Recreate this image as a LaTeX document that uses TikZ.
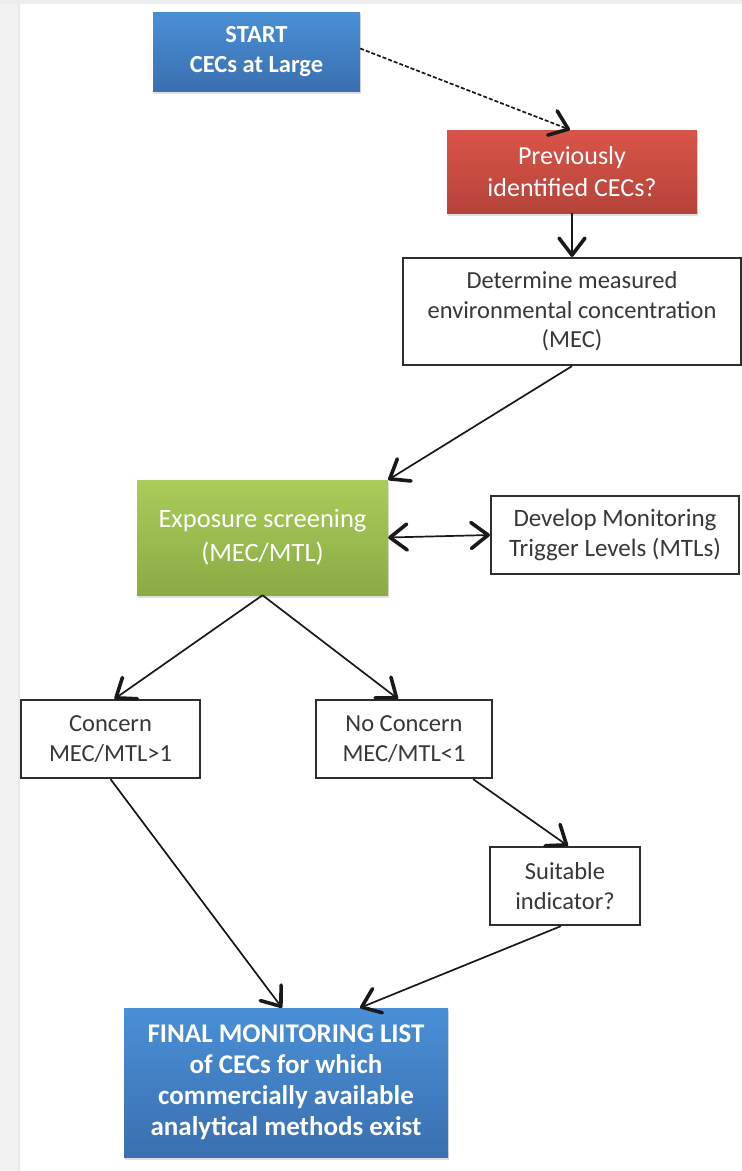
\documentclass[tikz,border=0pt]{standalone}
\usepackage{fontspec}
\setmainfont{Carlito}
\usetikzlibrary{arrows.meta,shadows,calc}

\definecolor{blueTop}{HTML}{4A8FD6}
\definecolor{blueBot}{HTML}{3A6FB0}
\definecolor{redTop}{HTML}{DA5448}
\definecolor{redBot}{HTML}{B5433A}
\definecolor{greenTop}{HTML}{AACC5A}
\definecolor{greenBot}{HTML}{8AAB44}
\definecolor{boxText}{HTML}{383838}
\definecolor{edgeGray}{HTML}{2E2E2E}

\tikzset{
  flow/.style={rectangle, align=center, inner sep=0pt,
    font=\fontsize{24.5}{29.5}\selectfont},
  plainbox/.style={flow, draw=edgeGray, line width=2.2pt, fill=white, text=boxText},
  colorbox/.style={flow, text=white,
    drop shadow={opacity=0.25, shadow xshift=1pt, shadow yshift=-3pt}},
  bluebox/.style={colorbox, top color=blueTop, bottom color=blueBot},
  redbox/.style={colorbox, top color=redTop, bottom color=redBot},
  greenbox/.style={colorbox, top color=greenTop, bottom color=greenBot},
  >={Straight Barb[length=17pt, width=26pt, line width=3.6pt, round]},
  link/.style={draw=black!90, line width=1.7pt, ->},
  duallink/.style={draw=black!90, line width=1.7pt, <->},
  dashlink/.style={link, dash pattern=on 4pt off 2pt}
}

\begin{document}
\begin{tikzpicture}[x=1pt,y=-1pt]
  % page frame
  \useasboundingbox (0,0) rectangle (742,1171);
  \fill[white] (0,0) rectangle (742,1171);
  \fill[black!5] (0,0) rectangle (19,1171);
  \fill[black!7] (0,0) rectangle (742,4);
  \draw[black!9, line width=1.5pt] (19,4) -- (19,1171);

  % boxes
  \node[bluebox, minimum width=207pt, minimum height=79pt,
        font=\fontsize{24.5}{30}\selectfont\bfseries]
        (start) at (256.5,51.5) {START\\CECs at Large};
  \node[redbox, minimum width=250pt, minimum height=83pt,
        font=\fontsize{26}{32}\selectfont]
        (prev) at (572,171.5) {Previously\\identified CECs?};
  \node[plainbox, minimum width=338pt, minimum height=107pt]
        (mec) at (572,311.5) {Determine measured\\environmental concentration\\(MEC)};
  \node[greenbox, minimum width=251pt, minimum height=115pt,
        font=\fontsize{26.5}{34}\selectfont]
        (expo) at (262.5,537.5) {Exposure screening\\(MEC/MTL)};
  \node[plainbox, minimum width=248pt, minimum height=78pt,
        font=\fontsize{25}{30}\selectfont]
        (mtl) at (615,535) {Develop Monitoring\\Trigger Levels (MTLs)};
  \node[plainbox, minimum width=179pt, minimum height=78pt]
        (concern) at (110.5,739) {Concern\\MEC/MTL>1};
  \node[plainbox, minimum width=176pt, minimum height=78pt]
        (noconcern) at (404,739) {No Concern\\MEC/MTL<1};
  \node[plainbox, minimum width=150pt, minimum height=78pt]
        (indicator) at (565,886) {Suitable\\indicator?};
  \node[bluebox, minimum width=324pt, minimum height=149pt,
        font=\fontsize{27}{31}\selectfont\bfseries]
        (final) at (286,1082.5) {FINAL MONITORING LIST\\of CECs for which\\commercially available\\analytical methods exist};

  % connectors
  \draw[dashlink] ([yshift=3pt]start.east) -- ([xshift=-2pt]prev.north);
  \draw[link] (prev.south) -- (mec.north);
  \draw[link] (mec.south) -- (expo.north east);
  \draw[duallink] (expo.east) -- (mtl.west);
  \draw[link] (expo.south) -- ([xshift=4pt]concern.north);
  \draw[link] (expo.south) -- ([xshift=-6pt]noconcern.north);
  \draw[link] ([xshift=-20pt]noconcern.south east) -- ([xshift=3pt]indicator.north);
  \draw[link] (concern.south) -- ([xshift=-4pt]final.north);
  \draw[link] ([xshift=-4pt]indicator.south) -- ([xshift=74pt]final.north);
\end{tikzpicture}
\end{document}
